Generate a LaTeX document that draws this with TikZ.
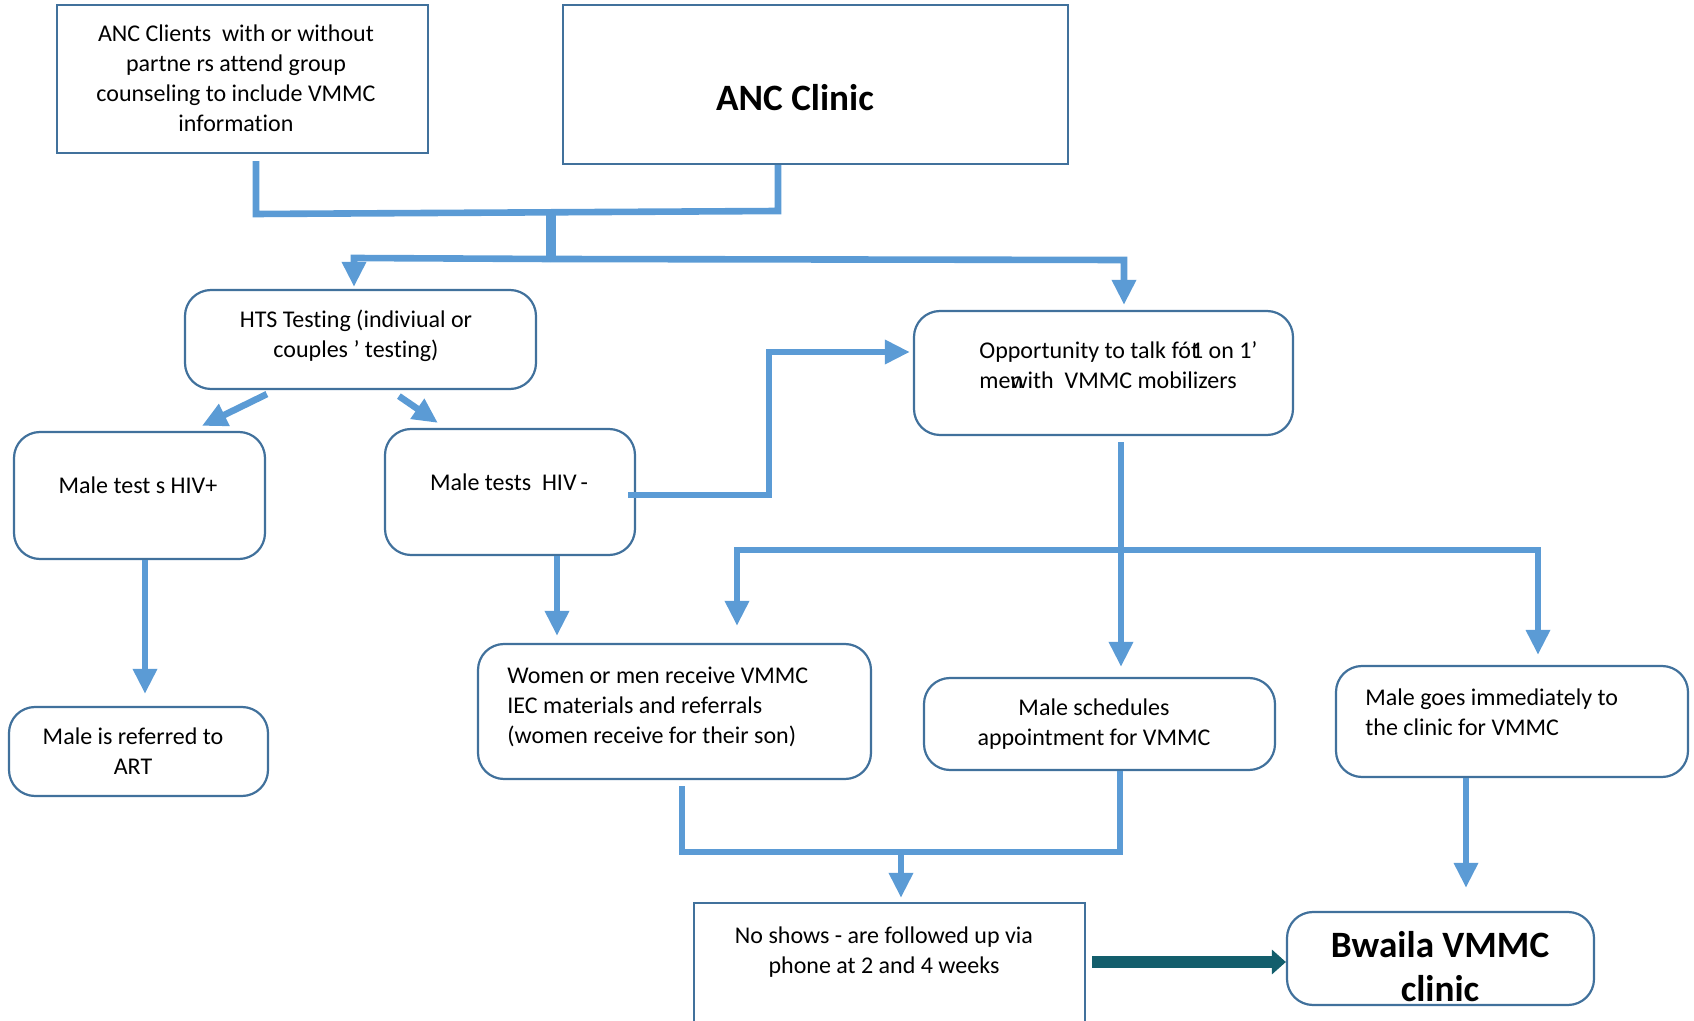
\documentclass[tikz,border=0pt]{standalone}
\usepackage{fontspec}
\setmainfont{Carlito}[Ligatures={NoCommon}]
\usetikzlibrary{arrows.meta,calc}
\definecolor{lineblue}{HTML}{5B9BD5}
\definecolor{boxblue}{HTML}{41719C}
\definecolor{tealdark}{HTML}{135E6C}
\begin{document}
\begin{tikzpicture}[x=0.5pt,y=-0.5pt,
 sqbox/.style={draw=boxblue,line width=1.1pt,fill=white,inner sep=0pt},
 rbox/.style={sqbox,rounded corners=13pt},
 txt/.style={inner sep=0pt,font=\fontsize{12}{15}\selectfont,align=center},
 ltxt/.style={txt,align=left,anchor=west},
 bigtxt/.style={inner sep=0pt,font=\fontsize{18.6}{22}\selectfont\bfseries,align=center},
 conn/.style={draw=lineblue,line width=3.3pt,line join=miter},
 arr/.style={conn,-{Triangle[length=12.5pt,width=11.5pt]}},
 tealarr/.style={draw=tealdark,line width=6pt,-{Triangle[length=7pt,width=12pt]}},
]
\useasboundingbox (0,0) rectangle (1694,1021);

% boxes
\node[sqbox,minimum width=185.5pt,minimum height=74pt] (A) at (242.5,79) {};
\node[txt] (At) at (236,78) {ANC Clients~ with or without\\partne rs attend group\\counseling to include VMMC\\information};

\node[sqbox,minimum width=252.5pt,minimum height=79.5pt] (B) at (815.5,84.5) {};
\node[bigtxt] (Bt) at (795,98) {ANC Clinic};

\node[rbox,minimum width=175.5pt,minimum height=49.5pt] (C) at (360.5,339.5) {};
\node[txt] (Ct) at (356,336) {HTS Testing (indiviual or\\couples ’ testing)};

\node[rbox,minimum width=125.5pt,minimum height=63.5pt] (D) at (139.5,495.5) {};
\node[txt] (Dt) at (138,485) {Male test s HIV+};

\node[rbox,minimum width=125pt,minimum height=63pt] (E) at (510,492) {};
\node[txt] (Et) at (509,482) {Male tests~ HIV\,-};

\node[rbox,minimum width=189.5pt,minimum height=62pt] (F) at (1103.5,373) {};
\node[ltxt] (Ft) at (979,365) {Opportunity to talk fó\rlap{t}1 on 1’\\me\rlap{n}with~ VMMC mobilizers};

\node[rbox,minimum width=196.5pt,minimum height=67.5pt] (G) at (674.5,711.5) {};
\node[ltxt] (Gt) at (507,707) {Women or men receive VMMC\\IEC materials and referrals\\(women receive for their son)};

\node[rbox,minimum width=175.5pt,minimum height=46pt] (H) at (1099.5,724) {};
\node[txt] (Ht) at (1094,724.5) {Male schedules\\appointment for VMMC};

\node[rbox,minimum width=176pt,minimum height=55.5pt] (I) at (1512,721.5) {};
\node[ltxt] (It) at (1365,712) {Male goes immediately to\\the clinic for VMMC};

\node[rbox,minimum width=129.5pt,minimum height=44.5pt] (J) at (138.5,751.5) {};
\node[txt] (Jt) at (133,751.5) {Male is referred to\\ART};

\node[sqbox,minimum width=195.5pt,minimum height=63.5pt] (K) at (889.5,966.5) {};
\node[txt] (Kt) at (884,952) {No shows - are followed up via\\phone at 2 and 4 weeks};

\node[rbox,minimum width=153.5pt,minimum height=46.5pt] (L) at (1440.5,958.5) {};
\node[bigtxt] (Lt) at (1440,967) {Bwaila VMMC\\clinic};

% connectors
\coordinate (aL) at (256,214);
\coordinate (aR) at (778,211);
\draw[conn,shorten <=3.5pt] (A.south -| aL) -- (aL) -- (aR) -- (B.south -| aR);
\coordinate (m1) at (551,212);
\coordinate (m2) at (551,259);
\draw[conn,line width=5pt] (m1) -- (m2);
\coordinate (hL) at (354,258);
\coordinate (hR) at (1124,260);
\draw[arr,shorten >=1pt] (m2) -- (hL) -- (C.north -| hL);
\draw[arr,shorten >=2.5pt] (m2) -- (hR) -- (F.north -| hR);

\draw[arr] ($(C.south west)+(83,4)$) -- ($(D.north west)+(189,-5)$);
\draw[arr] ($(C.south west)+(215,6)$) -- ($(E.north west)+(54,-5)$);

\coordinate (dj) at (145,0);
\draw[arr,shorten >=6pt] (D.south -| dj) -- (J.north -| dj);
\coordinate (eg) at (557,0);
\draw[arr,shorten >=3.5pt] (E.south -| eg) -- (G.north -| eg);

\coordinate (ef1) at (769,495);
\coordinate (ef2) at (769,352);
\draw[arr,shorten >=1.5pt] ($(E.east |- ef1)+(-8,0)$) -- (ef1) -- (ef2) -- (F.west |- ef2);

\coordinate (fx) at (1121,550);
\coordinate (bL) at (737,550);
\coordinate (bR) at (1538,550);
\draw[conn,shorten <=3pt] (F.south -| fx) -- (fx);
\draw[arr,shorten >=8.5pt] (fx) -- (bL) -- (G.north -| bL);
\draw[arr,shorten >=5pt] (fx) -- (bR) -- (I.north -| bR);
\draw[arr,shorten >=5pt] (fx) -- (H.north -| fx);

\coordinate (gk1) at (682,852);
\coordinate (gk2) at (1120,852);
\coordinate (gk3) at (901,852);
\draw[conn,shorten <=3pt] (G.south -| gk1) -- (gk1) -- (gk2) -- (H.south -| gk2);
\draw[arr,shorten >=2pt] (gk3) -- (K.north -| gk3);

\coordinate (il) at (1466,0);
\draw[arr,shorten >=11.5pt] (I.south -| il) -- (L.north -| il);

\coordinate (kl) at (0,962);
\draw[tealarr,shorten <=3pt] (K.east |- kl) -- (L.west |- kl);
\end{tikzpicture}
\end{document}
